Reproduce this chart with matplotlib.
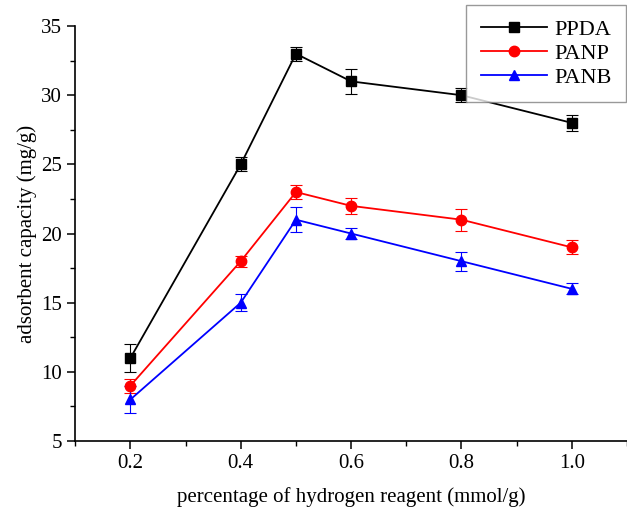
import numpy as np
import matplotlib.pyplot as plt
from matplotlib.ticker import MultipleLocator
from matplotlib.lines import Line2D

x = [0.2, 0.4, 0.5, 0.6, 0.8, 1.0]

ppda = [11, 25, 33, 31, 30, 28]
ppda_err = [1.0, 0.5, 0.5, 0.9, 0.5, 0.6]
panp = [9, 18, 23, 22, 21, 19]
panp_err = [0.5, 0.4, 0.5, 0.6, 0.8, 0.5]
panb = [8, 15, 21, 20, 18, 16]
panb_err = [1.0, 0.6, 0.9, 0.4, 0.7, 0.4]

plt.rcParams["font.family"] = ["Liberation Serif", "DejaVu Serif"]

fig = plt.figure(figsize=(6.27, 5.11), dpi=100)
ax = fig.add_axes([0.12, 0.137, 0.88, 0.812])

series = [
    (ppda, ppda_err, "black", "s", "PPDA"),
    (panp, panp_err, "red", "o", "PANP"),
    (panb, panb_err, "blue", "^", "PANB"),
]
handles = []
for y, e, c, m, lab in series:
    ax.errorbar(x, y, yerr=e, color=c, marker=m, ms=7.5, lw=1.3,
                capsize=4, capthick=0.8, elinewidth=0.8)
    handles.append(Line2D([], [], color=c, marker=m, ms=7.5, lw=1.3, label=lab))

ax.set_xlim(0.1, 1.1)
ax.set_ylim(5, 35)
ax.xaxis.set_major_locator(MultipleLocator(0.2))
ax.xaxis.set_minor_locator(MultipleLocator(0.1))
ax.yaxis.set_major_locator(MultipleLocator(5))
ax.yaxis.set_minor_locator(MultipleLocator(2.5))
ax.set_xticks([0.2, 0.4, 0.6, 0.8, 1.0])
ax.set_xticklabels(["0.2", "0.4", "0.6", "0.8", "1.0"])

for s in ["top", "right"]:
    ax.spines[s].set_visible(False)
for s in ["left", "bottom"]:
    ax.spines[s].set_linewidth(1.2)
ax.tick_params(which="major", direction="out", length=6, width=1.1, labelsize=15)
ax.tick_params(which="minor", direction="out", length=3.5, width=1.0)

ax.set_xlabel("percentage of hydrogen reagent (mmol/g)", fontsize=15, labelpad=10)
ax.set_ylabel("adsorbent capacity (mg/g)", fontsize=15, labelpad=3)

leg = fig.legend(handles=handles, loc="upper right", bbox_to_anchor=(0.998, 0.99),
                 fontsize=16, frameon=True, fancybox=False, borderaxespad=0,
                 handlelength=3.0, borderpad=0.65, labelspacing=0.15, handletextpad=0.3)
leg.get_frame().set_edgecolor("gray")
leg.get_frame().set_linewidth(1.0)

fig.savefig("out.png", dpi=100)
